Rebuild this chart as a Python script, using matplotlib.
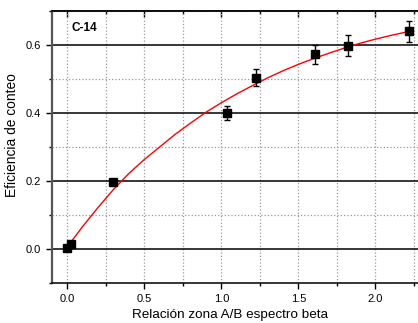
import matplotlib
matplotlib.use("Agg")
import matplotlib.pyplot as plt
from matplotlib.ticker import MultipleLocator, NullFormatter

plt.rcParams['font.family'] = ['Liberation Sans', 'DejaVu Sans']

# measured points (ratio A/B vs counting efficiency)
ratio = [0.0, 0.022, 0.30, 1.04, 1.223, 1.608, 1.823, 2.221]
efficiency = [0.003, 0.016, 0.198, 0.400, 0.504, 0.572, 0.598, 0.640]
eff_err = [0.0, 0.0, 0.0, 0.02, 0.026, 0.028, 0.03, 0.032]

# fitted curve
fit_x = [0.0, 0.1, 0.2, 0.3, 0.4, 0.5, 0.6, 0.7, 0.8, 0.9, 1.0, 1.1, 1.2,
         1.3, 1.4, 1.5, 1.6, 1.7, 1.8, 1.9, 2.0, 2.1, 2.2, 2.24]
fit_y = [0.006, 0.066, 0.122, 0.175, 0.222, 0.263, 0.300, 0.337, 0.370,
         0.402, 0.430, 0.456, 0.480, 0.503, 0.524, 0.543, 0.560, 0.576,
         0.591, 0.605, 0.617, 0.628, 0.638, 0.642]

fig = plt.figure(figsize=(4.18, 3.23), dpi=100)
ax = fig.add_axes([0.124, 0.124, 0.876, 0.842])

ax.set_xlim(-0.1, 2.277)
ax.set_ylim(-0.1, 0.7)

ax.xaxis.set_major_locator(MultipleLocator(0.5))
ax.xaxis.set_minor_locator(MultipleLocator(0.25))
ax.yaxis.set_major_locator(MultipleLocator(0.2))
ax.yaxis.set_minor_locator(MultipleLocator(0.1))

# grid: solid black horizontal majors, dotted grey elsewhere
ax.grid(which='major', axis='y', color='black', linestyle='-', linewidth=1.1)
ax.grid(which='minor', axis='y', color='#999999', linestyle=':', linewidth=0.9)
ax.grid(which='both', axis='x', color='#999999', linestyle=':', linewidth=0.9)
ax.set_axisbelow(True)

ax.plot(fit_x, fit_y, color='red', linewidth=1.0, zorder=3)
ax.errorbar(ratio, efficiency, yerr=eff_err, fmt='s', color='black',
            markersize=5.5, capsize=2.5, elinewidth=1.0, capthick=1.0, zorder=4)

ax.spines['right'].set_visible(False)
ax.spines['left'].set_color('#555555')
ax.spines['left'].set_linewidth(1.6)
ax.spines['bottom'].set_linewidth(1.1)
ax.spines['top'].set_linewidth(1.1)

ax.tick_params(which='major', direction='out', length=4.5, width=1, labelsize=8)
ax.tick_params(which='minor', direction='out', length=2.5, width=1)

# mirrored ticks on the top edge, pointing inward
top = ax.secondary_xaxis('top')
top.xaxis.set_major_locator(MultipleLocator(0.5))
top.xaxis.set_minor_locator(MultipleLocator(0.25))
top.xaxis.set_major_formatter(NullFormatter())
top.tick_params(which='major', direction='in', length=4, width=1)
top.tick_params(which='minor', direction='in', length=2, width=1)
top.spines['top'].set_linewidth(1.1)

ax.xaxis.set_major_formatter(plt.FuncFormatter(lambda v, p: f"{v:.1f}"))
ax.yaxis.set_major_formatter(plt.FuncFormatter(lambda v, p: f"{v:.1f}"))

ax.set_xlabel("Relación zona A/B espectro beta", fontsize=9.7, labelpad=5)
ax.xaxis.set_label_coords(0.486, -0.095)
ax.set_ylabel("Eficiencia de conteo", fontsize=9.9, labelpad=6)
ax.yaxis.set_label_coords(-0.09, 0.544)

ax.text(0.03, 0.65, "C-14", fontsize=8.5, fontweight='bold', ha='left', va='center')

fig.savefig("out.png", dpi=100)
